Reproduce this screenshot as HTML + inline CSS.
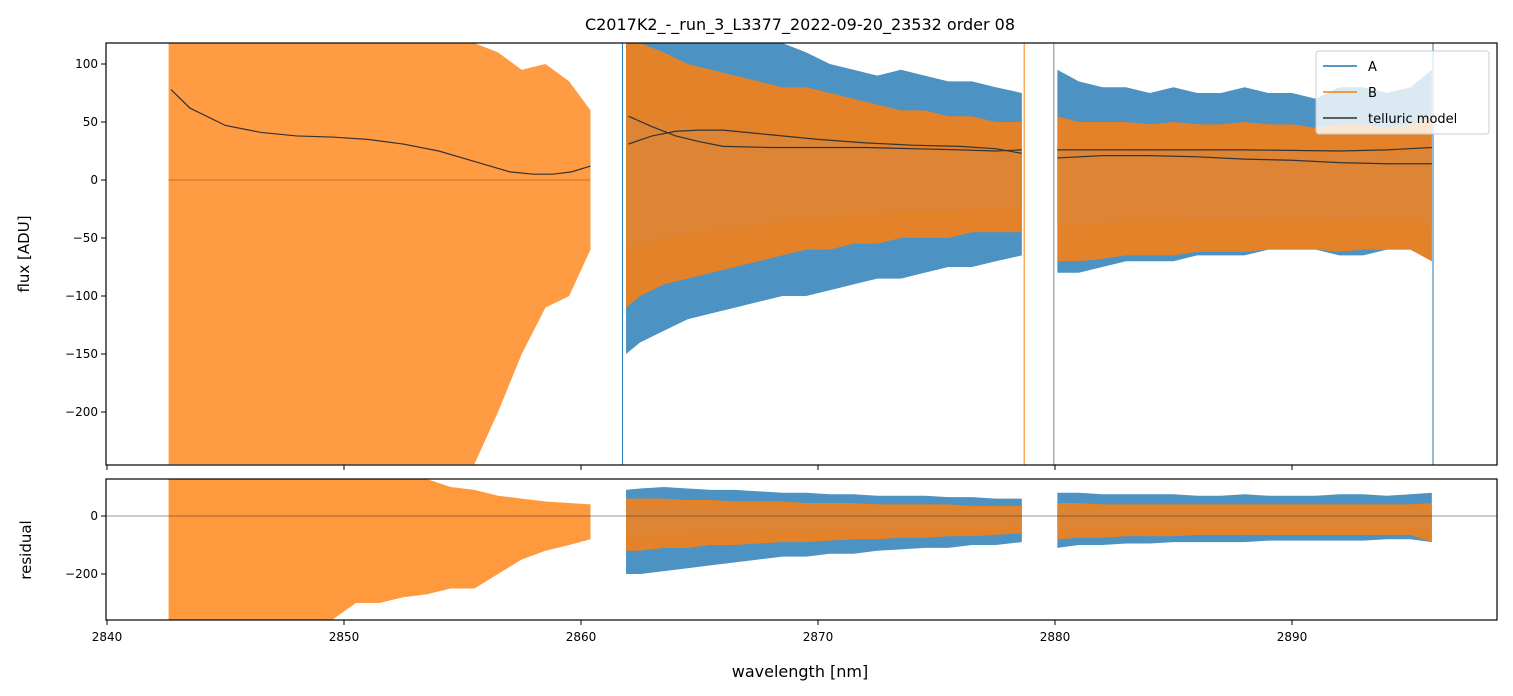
<!DOCTYPE html>
<html><head><meta charset="utf-8">
<style>
body{margin:0;background:#fff;}
svg{display:block;font-family:"DejaVu Sans","Liberation Sans",sans-serif;}
</style></head>
<body>
<svg id="chart" width="1513" height="696" viewBox="0 0 1513 696" xmlns="http://www.w3.org/2000/svg">
<text x="800" y="30" text-anchor="middle" font-size="16">C2017K2_-_run_3_L3377_2022-09-20_23532  order 08</text>
<text transform="translate(29,254) rotate(-90)" text-anchor="middle" font-size="15">flux [ADU]</text>
<text transform="translate(31,550) rotate(-90)" text-anchor="middle" font-size="15">residual</text>
<text x="800" y="677" text-anchor="middle" font-size="16">wavelength [nm]</text>
<defs>
<clipPath id="cm"><rect x="106" y="43" width="1391" height="422"/></clipPath>
<clipPath id="cr"><rect x="106" y="479" width="1391" height="141"/></clipPath>
</defs>
<g id="main" clip-path="url(#cm)"></g>
<g id="resid" clip-path="url(#cr)"></g>
<g id="axes"></g>
</svg>
<script>
// ---- data ----
const seg1Wl = [2842.6,2843.5,2844.5,2845.5,2846.5,2847.5,2848.5,2849.5,2850.5,2851.5,2852.5,2853.5,2854.5,2855.5,2856.5,2857.5,2858.5,2859.5,2860.4];
const seg1BHi = [118,118,118,118,118,118,118,118,118,118,118,118,118,118,110,95,100,85,60];
const seg1BLo = [-245,-245,-245,-245,-245,-245,-245,-245,-245,-245,-245,-245,-245,-245,-200,-150,-110,-100,-60];
const seg1RHi = [127,127,127,127,127,127,127,127,127,127,127,127,100,90,70,60,50,45,40];
const seg1RLo = [-358,-358,-358,-358,-358,-358,-358,-358,-300,-300,-280,-270,-250,-250,-200,-150,-120,-100,-80];
const seg2Wl = [2861.9,2862.5,2863.5,2864.5,2865.5,2866.5,2867.5,2868.5,2869.5,2870.5,2871.5,2872.5,2873.5,2874.5,2875.5,2876.5,2877.5,2878.6];
const seg2AHi = [118,118,118,118,118,118,118,118,110,100,95,90,95,90,85,85,80,75];
const seg2ALo = [-150,-140,-130,-120,-115,-110,-105,-100,-100,-95,-90,-85,-85,-80,-75,-75,-70,-65];
const seg2BHi = [118,118,110,100,95,90,85,80,80,75,70,65,60,60,55,55,50,50];
const seg2BLo = [-110,-100,-90,-85,-80,-75,-70,-65,-60,-60,-55,-55,-50,-50,-50,-45,-45,-45];
const seg2RAHi = [90,95,100,95,90,90,85,80,80,75,75,70,70,70,65,65,60,60];
const seg2RALo = [-200,-200,-190,-180,-170,-160,-150,-140,-140,-130,-130,-120,-115,-110,-110,-100,-100,-90];
const seg2RBHi = [60,60,60,55,55,50,50,50,45,45,45,40,40,40,40,35,35,35];
const seg2RBLo = [-120,-120,-110,-110,-100,-100,-95,-90,-90,-85,-80,-80,-75,-75,-70,-70,-65,-60];
const seg3Wl = [2880.1,2881,2882,2883,2884,2885,2886,2887,2888,2889,2890,2891,2892,2893,2894,2895,2895.9];
const seg3AHi = [95,85,80,80,75,80,75,75,80,75,75,70,80,80,75,80,95];
const seg3ALo = [-80,-80,-75,-70,-70,-70,-65,-65,-65,-60,-60,-60,-65,-65,-60,-60,-70];
const seg3BHi = [55,50,50,50,48,50,48,48,50,48,48,45,48,48,45,48,55];
const seg3BLo = [-70,-70,-68,-65,-65,-65,-62,-62,-62,-60,-60,-60,-62,-60,-60,-60,-70];
const seg3RAHi = [80,80,75,75,75,75,70,70,75,70,70,70,75,75,70,75,80];
const seg3RALo = [-110,-100,-100,-95,-95,-90,-90,-90,-90,-85,-85,-85,-85,-85,-80,-80,-90];
const seg3RBHi = [45,45,40,40,40,40,40,40,40,40,40,40,40,40,40,40,45];
const seg3RBLo = [-80,-75,-75,-70,-70,-70,-65,-65,-65,-65,-65,-65,-65,-65,-65,-65,-90];
const tell1Wl = [2842.7,2843.5,2845,2846.5,2848,2849.5,2851,2852.5,2854,2855.5,2857,2858,2858.8,2859.6,2860.4];
const tell1 = [78,62,47,41,38,37,35,31,25,16,7,5,5,7,12];
const tell2aWl = [2862,2863,2864,2865,2866,2868,2870,2872,2874,2876,2877.5,2878.6];
const tell2a = [55,46,38,33,29,28,28,28,27,26,25,26];
const tell2bWl = [2862,2863,2864,2865,2866,2868,2870,2872,2874,2876,2877.5,2878.6];
const tell2b = [31,38,42,43,43,39,35,32,30,29,27,23];
const tell3aWl = [2880.1,2884,2888,2892,2894,2895.9];
const tell3a = [26,26,26,25,26,28];
const tell3bWl = [2880.1,2882,2884,2886,2888,2890,2892,2894,2895.9];
const tell3b = [19,21,21,20,18,17,15,14,14];
const spikeWl = [2861.75,2878.7,2879.95,2895.95];
const spikeColor = ["#1f77b4","#ff7f0e","#888888","#1f77b4"];
const xTicks = [2840,2850,2860,2870,2880,2890];
const yTicks = [100,50,0,-50,-100,-150,-200];
const rTicks = [0,-200];

// ---- scales ----
const X = w => 107 + (w-2840)*23.7;
const Y = v => 180 - v*1.16;
const R = v => 516 - v*0.29;
const NS = "http://www.w3.org/2000/svg";
function mk(tag, parent, attrs){const e=document.createElementNS(NS,tag);for(const k in attrs)e.setAttribute(k,attrs[k]);parent.appendChild(e);return e;}
const main=document.getElementById('main'), resid=document.getElementById('resid'), axes=document.getElementById('axes');

function band(parent, wl, hi, lo, sy, color, op, name){
  let pts=[];
  wl.forEach((w,i)=>pts.push(X(w)+','+sy(hi[i])));
  for(let i=wl.length-1;i>=0;i--)pts.push(X(wl[i])+','+sy(lo[i]));
  const p=mk('polygon',parent,{points:pts.join(' '),fill:color,'fill-opacity':op});
  
  
}
function line(parent, wl, v, sy, color, width, name){
  const p=mk('polyline',parent,{points:wl.map((w,i)=>X(w)+','+sy(v[i])).join(' '),fill:'none',stroke:color,'stroke-width':width});
  
  
}
const BL="#1f77b4", OR="#ff7f0e", CORE="#dd8435";
// main panel
band(main,seg1Wl,seg1BHi,seg1BLo,Y,OR,0.78,'b-flux-seg1');
band(main,seg2Wl,seg2AHi,seg2ALo,Y,BL,0.8,'a-flux-seg2');
band(main,seg2Wl,seg2BHi,seg2BLo,Y,OR,0.85,'b-flux-seg2');
band(main,seg2Wl,seg2BHi.map(v=>v*0.45),seg2BLo.map(v=>v*0.55),Y,CORE,1,'b-core-seg2');
band(main,seg3Wl,seg3AHi,seg3ALo,Y,BL,0.8,'a-flux-seg3');
band(main,seg3Wl,seg3BHi,seg3BLo,Y,OR,0.85,'b-flux-seg3');
band(main,seg3Wl,seg3BHi.map(v=>v*0.5),seg3BLo.map(v=>v*0.55),Y,CORE,1,'b-core-seg3');
spikeWl.forEach((w,i)=>{const l=mk('line',main,{x1:X(w),x2:X(w),y1:43,y2:465,stroke:spikeColor[i],'stroke-width':1});
  
  });
const zl=mk('line',main,{x1:X(2842.6),x2:X(2860.4),y1:Y(0),y2:Y(0),stroke:'#b5651d','stroke-width':0.8});


line(main,tell1Wl,tell1,Y,'#333',1.2,'telluric-model-seg1');
line(main,tell2aWl,tell2a,Y,'#333',1.2,'telluric-model-seg2a');
line(main,tell2bWl,tell2b,Y,'#333',1.2,'telluric-model-seg2b');
line(main,tell3aWl,tell3a,Y,'#333',1.2,'telluric-model-seg3a');
line(main,tell3bWl,tell3b,Y,'#333',1.2,'telluric-model-seg3b');
// residual panel
band(resid,seg1Wl,seg1RHi,seg1RLo,R,OR,0.8,'b-resid-seg1');
band(resid,seg2Wl,seg2RAHi,seg2RALo,R,BL,0.8,'a-resid-seg2');
band(resid,seg2Wl,seg2RBHi,seg2RBLo,R,OR,0.85,'b-resid-seg2');
band(resid,seg2Wl,seg2RBHi.map(v=>v*0.6),seg2RBLo.map(v=>v*0.6),R,CORE,1,'b-resid-core-seg2');
band(resid,seg3Wl,seg3RAHi,seg3RALo,R,BL,0.8,'a-resid-seg3');
band(resid,seg3Wl,seg3RBHi,seg3RBLo,R,OR,0.85,'b-resid-seg3');
band(resid,seg3Wl,seg3RBHi.map(v=>v*0.6),seg3RBLo.map(v=>v*0.6),R,CORE,1,'b-resid-core-seg3');
const rz=mk('line',resid,{x1:106,x2:1497,y1:R(0),y2:R(0),stroke:'#333','stroke-width':0.6});


// axes frames
[[43,422,'main-frame'],[479,141,'residual-frame']].forEach(f=>{const r=mk('rect',axes,{x:106,y:f[0],width:1391,height:f[1],fill:'none',stroke:'#000','stroke-width':1.2});
  
  });
xTicks.forEach(t=>{
  mk('line',axes,{x1:X(t),x2:X(t),y1:465,y2:470,stroke:'#000'});
  mk('line',axes,{x1:X(t),x2:X(t),y1:620,y2:625,stroke:'#000'});
  const tx=mk('text',axes,{x:X(t),y:641,'text-anchor':'middle','font-size':12});
  tx.textContent=t;
  
  
});
yTicks.forEach(t=>{
  mk('line',axes,{x1:101,x2:106,y1:Y(t),y2:Y(t),stroke:'#000'});
  const tx=mk('text',axes,{x:98,y:Y(t)+4,'text-anchor':'end','font-size':12});
  tx.textContent=t<0?'\u2212'+(-t):t;
  
  
});
rTicks.forEach(t=>{
  mk('line',axes,{x1:101,x2:106,y1:R(t),y2:R(t),stroke:'#000'});
  const tx=mk('text',axes,{x:98,y:R(t)+4,'text-anchor':'end','font-size':12});
  tx.textContent=t<0?'\u2212'+(-t):t;
  
  
});
// legend
const lg=mk('g',axes,{});


mk('rect',lg,{x:1316,y:51,width:173,height:83,rx:3,fill:'#fff','fill-opacity':0.8,stroke:'#ccc'});
[['A',BL,66],['B',OR,92],['telluric model','#333',118]].forEach(e=>{
  const g=mk('g',lg,{});
  
  
  mk('line',g,{x1:1323,x2:1357,y1:e[2],y2:e[2],stroke:e[1],'stroke-width':1.6});
  const t=mk('text',g,{x:1368,y:e[2]+5,'font-size':13});
  t.textContent=e[0];
});
</script>
</body></html>
